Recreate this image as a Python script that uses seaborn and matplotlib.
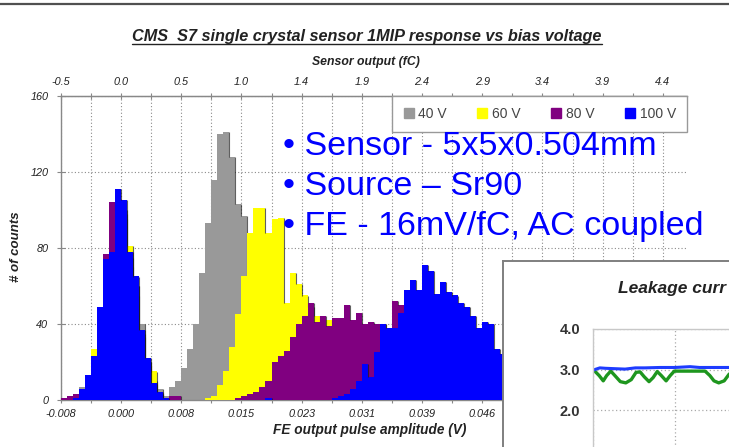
import numpy as np
import pandas as pd
import matplotlib
matplotlib.use("Agg")
import matplotlib.pyplot as plt
from matplotlib.lines import Line2D
from matplotlib.ticker import FixedLocator, FixedFormatter
import seaborn as sns

# ---------------------------------------------------------------- data
# histogram binning of the FE output amplitude (V)
bin_start = -0.00775
bin_width = 0.000775

# counts per bin, one list per bias voltage (bin 0 starts at bin_start)
counts_40v = [0, 0, 1, 7, 12, 22, 45, 68, 90, 105, 100, 75, 60, 40, 20, 10, 6, 2,
              7, 10, 17, 27, 40, 67, 93, 116, 140, 141, 128, 103, 97, 60, 35, 16, 6, 2,
              0, 0, 0, 0, 0, 0, 0, 0, 0, 0, 0, 0, 0, 0, 0, 0, 0, 0, 0, 0, 0, 0,
              0, 0, 0, 0, 0, 0, 0, 0, 0, 0, 0, 0, 0, 0, 0, 0]
counts_60v = [0, 0, 1, 4, 11, 27, 46, 70, 85, 100, 98, 81, 60, 35, 20, 15, 3, 0,
              0, 0, 0, 0, 0, 0, 1, 2, 8, 15, 28, 45, 65, 88, 101, 101, 88, 95,
              96, 51, 67, 61, 55, 49, 44, 38, 42, 22, 8, 2, 0, 0, 0, 0, 0, 0, 0, 0, 0, 0,
              0, 0, 0, 0, 0, 0, 0, 0, 0, 0, 0, 0, 0, 0, 0, 0]
counts_80v = [1, 2, 3, 5, 10, 20, 45, 77, 104, 100, 95, 70, 55, 33, 18, 8, 3, 1,
              2, 2, 0, 0, 0, 0, 0, 0, 0, 0, 0, 1, 2, 3, 4, 7, 10, 20,
              23, 26, 33, 40, 44, 51, 41, 44, 39, 43, 43, 50, 42, 46, 40, 41, 40, 40, 36, 52, 50, 47,
              44, 40, 36, 32, 28, 24, 20, 16, 12, 9, 6, 4, 3, 2, 1, 1]
counts_100v = [0, 0, 1, 6, 13, 23, 49, 74, 78, 111, 105, 78, 65, 37, 22, 9, 4, 1,
               0, 0, 0, 0, 0, 0, 0, 0, 0, 0, 0, 0, 0, 0, 0, 0, 1, 0,
               0, 0, 0, 0, 0, 0, 0, 0, 0, 1, 2, 3, 6, 10, 19, 12, 25, 40, 38, 38, 46, 58,
               63, 58, 71, 68, 56, 62, 57, 55, 51, 49, 44, 38, 41, 40, 27, 24]

series_labels = ["40 V", "60 V", "80 V", "100 V"]
series_colors = ["#999999", "#FFFF00", "#800080", "#0000FF"]
series_counts = [counts_40v, counts_60v, counts_80v, counts_100v]

# axis ticks
tick_step = 0.00775
tick_index = list(range(-1, 10))
bottom_tick_labels = ["-0.008", "0.000", "0.008", "0.015", "0.023", "0.031",
                      "0.039", "0.046", "0.054", "0.062", "0.070"]
top_tick_labels = ["-0.5", "0.0", "0.5", "1.0", "1.4", "1.9", "2.4", "2.9",
                   "3.4", "3.9", "4.4"]
y_ticks = [0, 40, 80, 120, 160]

notes = ["\u2022 Sensor - 5x5x0.504mm",
         "\u2022 Source \u2013 Sr90",
         "\u2022 FE - 16mV/fC, AC coupled"]

# leakage current inset
leak_t_green = [0.2, 0.9, 1.5, 2.0, 2.6, 3.2, 4.0, 4.8, 5.6, 6.3, 6.9, 7.5, 8.2,
                8.8, 9.4, 10.0, 10.7, 11.3, 11.9, 14.2, 16.4, 17.1, 17.7, 18.4,
                19.2, 19.9, 20.5]
leak_green = [2.97, 2.85, 2.72, 2.85, 2.96, 2.85, 2.70, 2.67, 2.75, 2.93, 2.94,
              2.82, 2.70, 2.80, 2.95, 2.85, 2.72, 2.85, 2.96, 2.96, 2.96, 2.85,
              2.72, 2.67, 2.72, 2.88, 2.96]
leak_t_blue = [0.1, 1.0, 1.8, 3.2, 4.7, 6.2, 7.6, 9.8, 12.0, 14.2, 15.6, 17.8, 20.7]
leak_blue = [2.99, 3.04, 3.03, 3.02, 3.01, 3.04, 3.04, 3.05, 3.05, 3.07, 3.05,
             3.05, 3.05]
leak_ticks = [1, 2, 3, 4]
leak_tick_labels = ["", "2.0", "3.0", "4.0"]
leak_title = "Leakage curr"

# ---------------------------------------------------------------- style
sns.set_style("white")
plt.rcParams["font.family"] = ["Liberation Sans", "DejaVu Sans"]

W, H = 729, 447
fig = plt.figure(figsize=(W / 100, H / 100), dpi=100)
fig.patch.set_facecolor("white")


def fx(px):
    return px / W


def fy(py):
    return 1 - py / H


AX_L, AX_R, AX_T, AX_B = 60.8, 687.0, 96.0, 400.0
ax = fig.add_axes([fx(AX_L), fy(AX_B), (AX_R - AX_L) / W, (AX_B - AX_T) / H])
ax.set_facecolor("white")
ax.set_axisbelow(True)

n_bins = len(counts_40v)
edges = bin_start + bin_width * np.arange(n_bins + 1)
centers = edges[:-1] + bin_width / 2

for i, (lab, col, cnt) in enumerate(zip(series_labels, series_colors, series_counts)):
    cnt = np.asarray(cnt, dtype=float)
    df = pd.DataFrame({"amplitude": centers, "counts": cnt})
    sns.histplot(data=df, x="amplitude", weights="counts", bins=edges.tolist(),
                 element="step", fill=True, color=col, alpha=1, linewidth=0,
                 ax=ax, zorder=2 + i)
    # dark edge on the right side of every falling step
    nxt = np.append(cnt[1:], 0)
    drop = cnt > nxt
    ax.vlines(edges[1:][drop], nxt[drop], cnt[drop], colors="#1c1c1c",
              linewidth=0.8, alpha=0.7, zorder=2.5 + i)

x_lo = bin_start
x_hi = bin_start + (AX_R - AX_L) / 60.2 * tick_step
ax.set_xlim(x_lo, x_hi)
ax.set_ylim(0, 160)

major_x = [k * tick_step for k in tick_index]
minor_x = [(k + 0.5) * tick_step for k in tick_index]
tick_font = dict(fontsize=7.8, fontstyle="italic", color="#222222")

ax.xaxis.set_major_locator(FixedLocator(major_x))
ax.xaxis.set_major_formatter(FixedFormatter(bottom_tick_labels))
ax.xaxis.set_minor_locator(FixedLocator(minor_x))
ax.set_yticks(y_ticks)
ax.set_yticklabels([str(v) for v in y_ticks])
for lbl in ax.get_xticklabels() + ax.get_yticklabels():
    lbl.set(**tick_font)
ax.tick_params(axis="x", which="both", direction="inout", length=5, width=0.8,
               color="#888888", pad=4, bottom=True)
ax.tick_params(axis="y", which="major", direction="inout", length=6, width=0.8,
               color="#888888", pad=6, left=True)

ax.grid(True, axis="x", which="both", linestyle=(0, (1, 2)), color="#8a8a8a", linewidth=0.8)
ax.grid(True, axis="y", which="major", linestyle=(0, (1, 2)), color="#8a8a8a", linewidth=0.8)

for side in ["left", "bottom", "top"]:
    ax.spines[side].set_color("#888888")
    ax.spines[side].set_linewidth(1.0)
ax.spines["right"].set_visible(False)

ax.set_xlabel("")
ax.set_ylabel("")

# secondary (charge) axis on top
top = ax.twiny()
top.set_xlim(x_lo, x_hi)
top.xaxis.set_major_locator(FixedLocator(major_x))
top.xaxis.set_major_formatter(FixedFormatter(top_tick_labels))
top.xaxis.set_minor_locator(FixedLocator(minor_x))
top.tick_params(axis="x", which="both", direction="inout", length=5, width=0.8,
                color="#888888", pad=4)
for lbl in top.get_xticklabels():
    lbl.set(**tick_font)
for side in ["left", "bottom", "right"]:
    top.spines[side].set_visible(False)
top.spines["top"].set_color("#888888")

# axis titles
fig.text(fx(370), fy(430), "FE output pulse amplitude (V)", ha="center", va="center",
         fontsize=9.8, fontweight="bold", fontstyle="italic", color="#222222")
fig.text(fx(366), fy(62), "Sensor output (fC)", ha="center", va="center",
         fontsize=8.8, fontweight="bold", fontstyle="italic", color="#222222")
fig.text(fx(16), fy(247), "# of counts", ha="center", va="center", rotation=90,
         fontsize=9.5, fontweight="bold", fontstyle="italic", color="#222222")

# legend in the upper right corner of the plot area
handles = [Line2D([0], [0], marker="s", linestyle="", markersize=7,
                  markerfacecolor=c, markeredgecolor=c) for c in series_colors]
lx0 = (392 - AX_L) / (AX_R - AX_L)
leg = top.legend(handles, series_labels, loc="upper left",
                 bbox_to_anchor=(lx0, 0, 1 - lx0, 1), mode="expand", ncol=4,
                 borderaxespad=0, frameon=True, fancybox=False, framealpha=1,
                 edgecolor="#999999", borderpad=0.8, handlelength=0.8,
                 handletextpad=0.3, columnspacing=0.5, prop={"size": 10})
leg.get_frame().set_linewidth(1.0)
for t in leg.get_texts():
    t.set_color("#444444")
leg.set_zorder(20)

# title with underline
title = fig.text(fx(367), fy(41), "CMS  S7 single crystal sensor 1MIP response vs bias voltage",
                 ha="center", va="baseline", fontsize=11.7, fontweight="bold",
                 fontstyle="italic", color="#222222")

# frame line along the top edge
fig.add_artist(Line2D([0, 1], [fy(4), fy(4)], transform=fig.transFigure,
                      color="#505050", linewidth=1.6))

# bullet notes
for k, line in enumerate(notes):
    fig.text(fx(283), fy(155 + 40 * k), line, ha="left", va="baseline",
             fontsize=24.5, color="#0000FF", zorder=10)

# ---------------------------------------------------------------- inset
box = fig.add_axes([fx(503), fy(480), (760 - 503) / W, (480 - 261) / H], zorder=5)
box.set_facecolor("white")
box.set_xticks([])
box.set_yticks([])
for s in box.spines.values():
    s.set_color("#7f7f7f")
    s.set_linewidth(1.4)

ins = fig.add_axes([fx(593), fy(491), 164 / W, (491 - 329) / H], zorder=6)
ins.set_facecolor("none")
ins.set_xlim(0, 24)
ins.set_ylim(0, 4)
ins.set_xticks([0, 12, 24])
ins.set_xticklabels([])
ins.set_yticks(leak_ticks)
ins.set_yticklabels(leak_tick_labels)
ins.tick_params(length=0, pad=9)
for lbl in ins.get_yticklabels():
    lbl.set(fontsize=10.5, fontweight="bold", color="#333333")
ins.grid(True, linestyle=(0, (1, 2)), color="#aaaaaa", linewidth=0.9)
for side in ["left", "top"]:
    ins.spines[side].set_color("#c8c8c8")
    ins.spines[side].set_linewidth(1.0)
for side in ["right", "bottom"]:
    ins.spines[side].set_visible(False)

sns.lineplot(x=leak_t_green, y=leak_green, ax=ins, color="#1e961e", linewidth=2.4,
             sort=False, estimator=None)
sns.lineplot(x=leak_t_blue, y=leak_blue, ax=ins, color="#1e3cff", linewidth=2.2,
             sort=False, estimator=None)
ins.set_xlabel("")
ins.set_ylabel("")
for ln in ins.get_lines():
    ln.set_solid_joinstyle("round")
    ln.set_solid_capstyle("round")

fig.text(fx(618), fy(289), leak_title, ha="left", va="center",
         fontsize=12.5, fontweight="bold", fontstyle="italic", color="#222222", zorder=10)

# underline the title
fig.canvas.draw()
bb = title.get_window_extent(fig.canvas.get_renderer())
fig.add_artist(Line2D([bb.x0 / fig.bbox.width, bb.x1 / fig.bbox.width],
                      [fy(43.5), fy(43.5)], transform=fig.transFigure,
                      color="#222222", linewidth=1.0))

fig.savefig("out.png", dpi=100, facecolor="white")
